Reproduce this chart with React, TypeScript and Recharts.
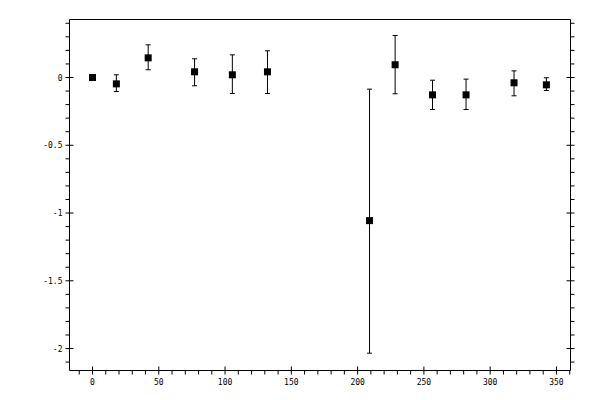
import { ErrorBar, Scatter, ScatterChart, XAxis, YAxis } from 'recharts';

const xs = [0, 18, 42, 77, 105.5, 132, 209, 228.3, 256.5, 281.8, 318, 342.4];
const ys = [0, -0.047, 0.145, 0.042, 0.02, 0.042, -1.056, 0.094, -0.128, -0.128, -0.039, -0.054];
const highs = [0, 0.02, 0.241, 0.138, 0.167, 0.197, -0.086, 0.31, -0.02, -0.012, 0.049, -0.002];
const lows = [0, -0.103, 0.057, -0.061, -0.118, -0.118, -2.034, -0.12, -0.236, -0.236, -0.135, -0.096];

const xTicks = [-10, 0, 10, 20, 30, 40, 50, 60, 70, 80, 90, 100, 110, 120, 130, 140, 150, 160, 170, 180, 190, 200,
  210, 220, 230, 240, 250, 260, 270, 280, 290, 300, 310, 320, 330, 340, 350, 360];
const yTicks = [-2.1, -2, -1.9, -1.8, -1.7, -1.6, -1.5, -1.4, -1.3, -1.2, -1.1, -1, -0.9, -0.8, -0.7, -0.6, -0.5,
  -0.4, -0.3, -0.2, -0.1, 0, 0.1, 0.2, 0.3, 0.4];

const rows = xs.map((x, i) => ({ x, y: ys[i], err: [ys[i] - lows[i], highs[i] - ys[i]] }));

const font = { fontFamily: '"DejaVu Sans Mono", monospace', fontSize: 8, fill: '#000' };
const isMajorX = (v: number) => v % 50 === 0;
const isMajorY = (v: number) => Math.abs(v * 2 - Math.round(v * 2)) < 1e-6;

const BottomTick = ({ x, y, payload }: any) => {
  const major = isMajorX(payload.value);
  return (
    <g>
      <line x1={x} x2={x} y1={major ? y - 4 : y} y2={y + 4} stroke="#000" />
      {major && <text x={x} y={y + 14} textAnchor="middle" {...font}>{payload.value}</text>}
    </g>
  );
};

const TopTick = ({ x, y, payload }: any) => {
  const major = isMajorX(payload.value);
  return <line x1={x} x2={x} y1={y - 4} y2={major ? y + 4 : y} stroke="#000" />;
};

const LeftTick = ({ x, y, payload }: any) => {
  const major = isMajorY(payload.value);
  return (
    <g>
      <line x1={x - 4} x2={major ? x + 4 : x} y1={y} y2={y} stroke="#000" />
      {major && <text x={x - 7} y={y + 3} textAnchor="end" {...font}>{payload.value}</text>}
    </g>
  );
};

const RightTick = ({ x, y, payload }: any) => {
  const major = isMajorY(payload.value);
  return <line x1={major ? x - 4 : x} x2={x + 4} y1={y} y2={y} stroke="#000" />;
};

const Square = ({ cx, cy }: any) => <rect x={cx - 3.5} y={cy - 3.5} width={7} height={7} fill="#000" />;

export default function App() {
  const xDomain = [-17.35, 360.6];
  const yDomain = [-2.162, 0.428];
  return (
    <div style={{ position: 'absolute', left: 0, top: 0, width: 600, height: 400, background: '#fff' }}>
      <ScatterChart width={600} height={400} margin={{ top: 0, right: 0, bottom: 0, left: 0 }}>
        <XAxis dataKey="x" type="number" domain={xDomain} allowDataOverflow ticks={xTicks} interval={0}
          height={29.5} tickSize={0} tickMargin={0} axisLine={{ stroke: '#000' }} tick={<BottomTick />} />
        <XAxis xAxisId="top" orientation="top" type="number" domain={xDomain} allowDataOverflow ticks={xTicks}
          interval={0} height={19.5} tickSize={0} tickMargin={0} axisLine={{ stroke: '#000' }} tick={<TopTick />} />
        <YAxis dataKey="y" type="number" domain={yDomain} allowDataOverflow ticks={yTicks} interval={0}
          width={69.5} tickSize={0} tickMargin={0} axisLine={{ stroke: '#000' }} tick={<LeftTick />} />
        <YAxis yAxisId="right" orientation="right" type="number" domain={yDomain} allowDataOverflow ticks={yTicks}
          interval={0} width={29.5} tickSize={0} tickMargin={0} axisLine={{ stroke: '#000' }} tick={<RightTick />} />
        <Scatter data={rows} fill="#000" shape={<Square />} isAnimationActive={false}>
          <ErrorBar dataKey="err" direction="y" width={2.5} stroke="#000" strokeWidth={1} isAnimationActive={false} />
        </Scatter>
      </ScatterChart>
    </div>
  );
}
